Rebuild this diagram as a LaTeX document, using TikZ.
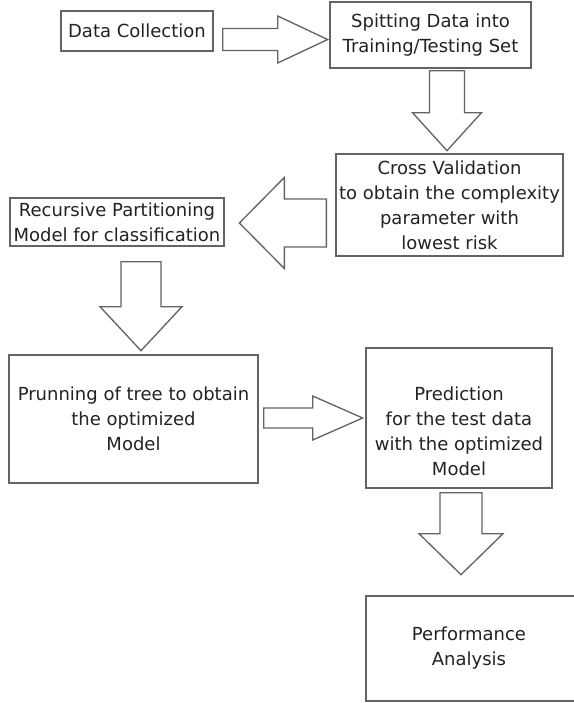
\documentclass[tikz,border=0pt]{standalone}
\usepackage{fontspec}
\setmainfont{DejaVu Sans}
\usetikzlibrary{calc}
\definecolor{edge}{RGB}{100,100,100}
\definecolor{ink}{RGB}{35,35,35}
\tikzset{
  box/.style={draw=edge, line width=1pt, rectangle, inner sep=0pt},
  label text/.style={align=center, text=ink, inner sep=0pt,
    font=\fontsize{13.5}{18.75}\selectfont},
  blk/.style={draw=edge, line width=1pt, fill=white, line join=miter},
}
% hollow block arrow: tail point, direction, length, shaft half-width,
% head half-width, head length (all in px units)
\newcommand\blockarrow[6]{%
  \begin{scope}[shift={(#1)}, rotate=#2]
    \draw[blk] (0,-#4) -- ({#3-#6},-#4) -- ({#3-#6},-#5) -- (#3,0)
      -- ({#3-#6},#5) -- ({#3-#6},#4) -- (0,#4) -- cycle;
  \end{scope}}
\begin{document}
\begin{tikzpicture}[x=0.75pt, y=-0.75pt]
  \useasboundingbox (0,0) rectangle (574,703);
  \clip (0,0) rectangle (574,703);
  \fill[white] (0,0) rectangle (574,703);

  % process boxes
  \node[box, minimum width=114pt, minimum height=30pt] (b1) at (137,31) {};
  \node[box, minimum width=150.75pt, minimum height=49.5pt] (b2) at (430.5,35) {};
  \node[box, minimum width=170.25pt, minimum height=76.5pt] (b3) at (449.5,205) {};
  \node[box, minimum width=160.5pt, minimum height=36pt] (b4) at (117,222) {};
  \node[box, minimum width=186.75pt, minimum height=96pt] (b5) at (133.5,419) {};
  \node[box, minimum width=139.5pt, minimum height=105pt] (b6) at (459,418) {};
  \node[box, minimum width=159pt, minimum height=78.75pt] (b7) at (472,648.5) {};

  % box texts
  \node[label text] (t1) at (b1.center) {Data Collection};
  \node[label text] (t2) at (b2.center) {Spitting Data into\\Training/Testing Set};
  \node[label text] (t3) at (b3.center) {Cross Validation\\to obtain the complexity\\parameter with\\lowest risk};
  \node[label text] (t4) at (b4.center) {Recursive Partitioning\\Model for classification};
  \node[label text] (t5) at (b5.center) {Prunning of tree to obtain\\the optimized\\Model};
  \node[label text] (t6) at ($(b6.center)+(0,13)$) {Prediction\\for the test data\\with the optimized\\Model};
  \node[label text] (t7) at ($(b7.center)+(-3,0)$) {Performance\\Analysis};

  % tails of the block arrows
  \coordinate (a1) at ($(b1.east)+(9,8.5)$);
  \coordinate (a2) at ($(b2.south)+(16.5,2)$);
  \coordinate (a3) at ($(b3.west)+(-9,18)$);
  \coordinate (a4) at ($(b4.south)+(24,15)$);
  \coordinate (a5) at ($(b5.east)+(5,-1)$);
  \coordinate (a6) at ($(b6.south)+(2,4)$);

  \blockarrow{a1}{0}{105}{11}{23.5}{50}
  \blockarrow{a2}{-90}{80}{17.5}{34.5}{38}
  \blockarrow{a3}{180}{87}{24}{45.5}{45}
  \blockarrow{a4}{-90}{89}{20}{41}{44}
  \blockarrow{a5}{0}{99}{10}{22}{50}
  \blockarrow{a6}{-90}{82}{21}{42}{41}
\end{tikzpicture}
\end{document}
